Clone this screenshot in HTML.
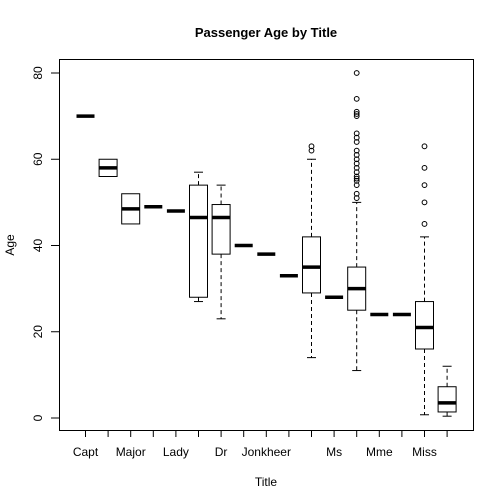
<!DOCTYPE html>
<html><head><meta charset="utf-8"><style>
html,body{margin:0;padding:0;background:#fff;}
svg{display:block;font-family:"Liberation Sans",Arial,sans-serif;}
</style></head><body>
<svg id="chart" width="504" height="504" viewBox="0 0 504 504">
<rect x="0" y="0" width="504" height="504" fill="#fff"/>
<text x="266" y="37" text-anchor="middle" font-size="13" font-weight="bold">Passenger Age by Title</text>
<rect x="59.5" y="59.5" width="414" height="371" fill="none" stroke="#000" stroke-width="1"/>
<text x="266" y="486" text-anchor="middle" font-size="12">Title</text>
<text transform="translate(14,245) rotate(-90)" text-anchor="middle" font-size="12">Age</text>
<g id="axes"></g>
<g id="marks"></g>
</svg>
<script>
const categories=["Capt","Col","Major","Sir","Lady","Rev","Dr","Don","Jonkheer","the Countess","Mrs","Ms","Mr","Mme","Mlle","Miss","Master"];
const shownLabels=["Capt","Major","Lady","Dr","Jonkheer","Ms","Mme","Miss"];
const whiskerLow=[70,56,45,49,48,27,23,40,38,33,14,28,11,24,24,0.75,0.42];
const q1=[70,56,45,49,48,28,38,40,38,33,29,28,25,24,24,16,1.4];
const medians=[70,58,48.5,49,48,46.5,46.5,40,38,33,35,28,30,24,24,21,3.5];
const q3=[70,60,52,49,48,54,49.5,40,38,33,42,28,35,24,24,27,7.25];
const whiskerHigh=[70,60,52,49,48,57,54,40,38,33,60,28,50,24,24,42,12];
const outliers=[[],[],[],[],[],[],[],[],[],[],[63,62],[],[80,74,71,70.5,70,66,65,64,62,61,60,59,58,57,56,55.5,55,54,52,51],[],[],[63,58,54,50,45],[]];
const yTicks=[0,20,40,60,80];

const NS="http://www.w3.org/2000/svg";
const x=i=>85.5+i*22.6;
const y=v=>418-4.3125*v;
const half=9;
function mk(tag,attrs,parent){const e=document.createElementNS(NS,tag);for(const k in attrs)e.setAttribute(k,attrs[k]);parent.appendChild(e);return e;}
const axes=document.getElementById('axes');
const marks=document.getElementById('marks');

yTicks.forEach(t=>{
  let tk=mk('line',{x1:51,x2:59.5,y1:y(t),y2:y(t),stroke:'#000'},axes);
  
  
  let lb=mk('text',{transform:`translate(42,${y(t)}) rotate(-90)`,'text-anchor':'middle','font-size':12},axes);
  lb.textContent=t;
  
  
});
categories.forEach((c,i)=>{
  let tk=mk('line',{x1:x(i),x2:x(i),y1:430.5,y2:437,stroke:'#000'},axes);
  
  
  if(shownLabels.includes(c)){
    let lb=mk('text',{x:x(i),y:456,'text-anchor':'middle','font-size':12},axes);
    lb.textContent=c;
    
    
  }
});
categories.forEach((c,i)=>{
  const g=mk('g',{},marks);
  
  
  const cx=x(i);
  if(whiskerHigh[i]>q3[i]){
    mk('line',{x1:cx,x2:cx,y1:y(q3[i]),y2:y(whiskerHigh[i]),stroke:'#000','stroke-dasharray':'4,3'},g);
    mk('line',{x1:cx-half/2,x2:cx+half/2,y1:y(whiskerHigh[i]),y2:y(whiskerHigh[i]),stroke:'#000'},g);
  }
  if(whiskerLow[i]<q1[i]){
    mk('line',{x1:cx,x2:cx,y1:y(q1[i]),y2:y(whiskerLow[i]),stroke:'#000','stroke-dasharray':'4,3'},g);
    mk('line',{x1:cx-half/2,x2:cx+half/2,y1:y(whiskerLow[i]),y2:y(whiskerLow[i]),stroke:'#000'},g);
  }
  if(q3[i]>q1[i]){
    mk('rect',{x:cx-half,y:y(q3[i]),width:half*2,height:y(q1[i])-y(q3[i]),fill:'#fff',stroke:'#000'},g);
  }
  mk('line',{x1:cx-half,x2:cx+half,y1:y(medians[i]),y2:y(medians[i]),stroke:'#000','stroke-width':3.5},g);
  outliers[i].forEach(v=>{
    mk('circle',{cx:cx,cy:y(v),r:2.4,fill:'none',stroke:'#000','stroke-width':1},g);
  });
});
</script>
</body></html>
